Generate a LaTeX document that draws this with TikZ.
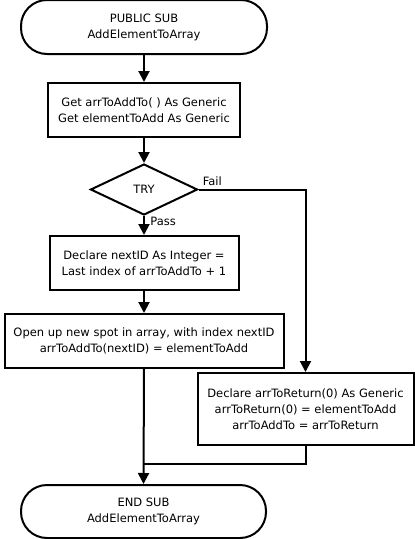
\documentclass[tikz,border=0pt]{standalone}
\usepackage{fontspec}
\setmainfont{DejaVu Sans}
\usepackage{tikz}
\usetikzlibrary{arrows.meta,positioning,shapes.geometric}

\begin{document}
\begin{tikzpicture}[x=1pt,y=1pt,>={Triangle[length=11pt,width=11pt]},line width=2pt,
  every node/.style={font=\fontsize{11.5}{16}\selectfont,align=center},
  termbox/.style={draw,rounded corners=26pt,minimum width=246pt,minimum height=54pt},
  procbox/.style={draw,minimum height=54pt,inner sep=0pt},
  trybox/.style={draw,diamond,minimum width=107pt,minimum height=51pt,inner sep=0pt}]
\useasboundingbox (0,0) rectangle (415,-539);
\node[termbox] (start) at (144,-27) {PUBLIC SUB\\AddElementToArray};
\node[procbox,minimum width=192pt,below=27pt of start] (get) {Get arrToAddTo( ) As Generic\\Get elementToAdd As Generic};
\node[trybox,below=25pt of get] (try) {TRY};
\node[procbox,minimum width=189pt,below=19pt of try] (decl) {Declare nextID As Integer =\\Last index of arrToAddTo + 1};
\node[procbox,minimum width=279pt,below=22pt of decl] (open) {Open up new spot in array, with index nextID\\arrToAddTo(nextID) = elementToAdd};
\node[procbox,minimum width=216pt,minimum height=72pt] (ret) at (305.5,-409) {Declare arrToReturn(0) As Generic\\arrToReturn(0) = elementToAdd\\arrToAddTo = arrToReturn};
\node[termbox,minimum width=245pt,minimum height=53pt] (end) at (143.5,-511.5) {END SUB\\AddElementToArray};
\coordinate (join) at (open.south |- 0,-464);
\draw[->] (start) -- (get);
\draw[->] (get) -- (try);
\draw[->] (try.south) -- node[right,pos=0.3,xshift=2pt]{Pass} (decl.north);
\draw[->] (decl) -- (open);
\draw[->] (try.east) -| node[pos=0,above right]{Fail} (ret.north);
\draw (ret.south) |- (join);
\draw[->] (open.south) -- (end.north);
\end{tikzpicture}
\end{document}
